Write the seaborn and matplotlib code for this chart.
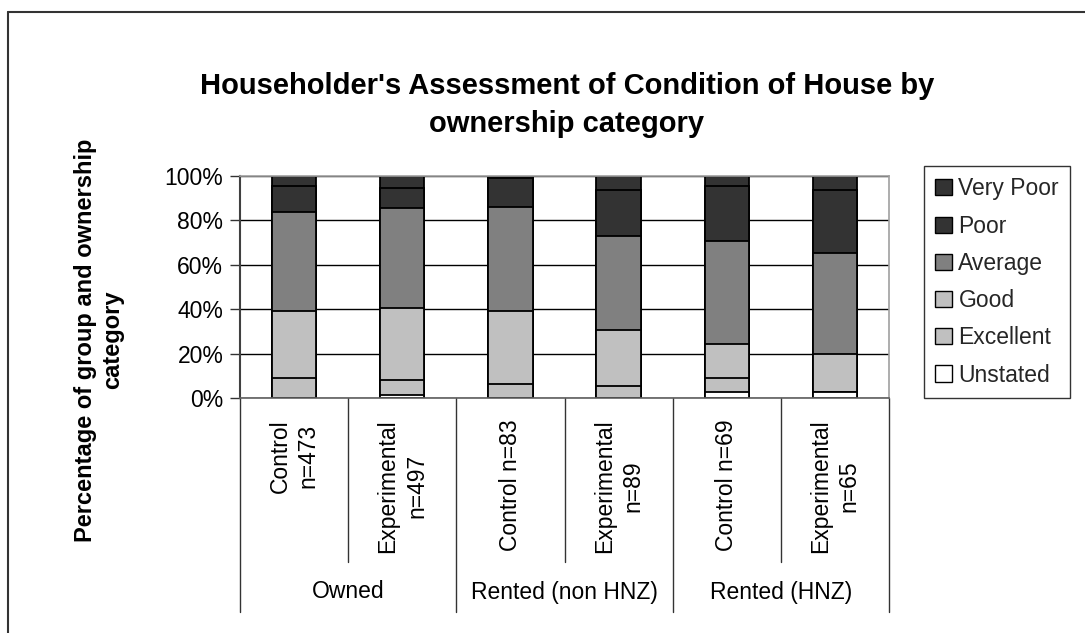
import matplotlib
matplotlib.use("Agg")
import matplotlib.pyplot as plt
import matplotlib.transforms as mtransforms
from matplotlib.patches import Patch
from matplotlib.lines import Line2D
import seaborn as sns
import pandas as pd
import numpy as np

# ---------------- data ----------------
bar_labels = ["Control\nn=473", "Experimental\nn=497", "Control n=83",
              "Experimental\nn=89", "Control n=69", "Experimental\nn=65"]
group_labels = ["Owned", "Rented (non HNZ)", "Rented (HNZ)"]
series_names = ["Unstated", "Excellent", "Good", "Average", "Poor", "Very Poor"]
unstated  = [0.0, 1.2, 0.0, 0.0, 2.5, 2.7]
excellent = [9.0, 7.0, 6.3, 5.5, 6.5, 0.0]
good      = [30.0, 32.3, 32.7, 25.2, 15.4, 17.1]
average   = [44.7, 45.0, 47.2, 42.3, 46.5, 45.7]
poor      = [11.8, 9.0, 12.8, 20.7, 24.6, 28.2]
very_poor = [4.5, 5.5, 1.0, 6.3, 4.5, 6.3]
y_ticks = [0, 20, 40, 60, 80, 100]
y_tick_labels = ["0%", "20%", "40%", "60%", "80%", "100%"]

colors = {"Unstated": "#ffffff", "Excellent": "#c0c0c0", "Good": "#c0c0c0",
          "Average": "#808080", "Poor": "#333333", "Very Poor": "#333333"}

series = [unstated, excellent, good, average, poor, very_poor]
df = pd.DataFrame({n: v for n, v in zip(series_names, series)})
df["bar"] = [f"b{i}" for i in range(len(bar_labels))]

sns.set_theme(style="white")
plt.rcParams["font.family"] = ["Liberation Sans", "DejaVu Sans"]

W, H = 1085, 633
fig = plt.figure(figsize=(W / 100, H / 100), dpi=100)
fig.patch.set_facecolor("white")

# axes in pixel coordinates
ax_l, ax_r, ax_t, ax_b = 240, 889, 176, 398
ax = fig.add_axes([ax_l / W, 1 - ax_b / H, (ax_r - ax_l) / W, (ax_b - ax_t) / H])

# stacked bars: draw cumulative totals from top series down
cum = np.cumsum(np.array(series), axis=0)
order = list(range(len(series_names)))[::-1]
for i in order:
    d = pd.DataFrame({"bar": df["bar"], "val": cum[i]})
    sns.barplot(data=d, x="bar", y="val", color=colors[series_names[i]],
                width=0.41, edgecolor="black", linewidth=1.3, saturation=1,
                ax=ax, zorder=3)

FS = 16.5
ax.set_xlim(-0.5, len(bar_labels) - 0.5)
ax.set_ylim(0, 100)
ax.set_yticks(y_ticks)
ax.set_yticklabels(y_tick_labels, fontsize=FS, color="black")
ax.set_xticks([])
ax.set_xlabel("")
ax.set_ylabel("")
ax.tick_params(axis="y", which="both", left=True, length=7, width=1,
               color="#333333", pad=5)
ax.yaxis.grid(True, color="black", linewidth=1)
ax.set_axisbelow(True)
for s in ["top", "right"]:
    ax.spines[s].set_color("#a0a0a0")
    ax.spines[s].set_linewidth(1.2)
ax.spines["left"].set_color("#404040")
ax.spines["left"].set_linewidth(1.5)
ax.spines["bottom"].set_color("#606060")
ax.spines["bottom"].set_linewidth(1.2)
for s in ax.spines.values():
    s.set_zorder(4)

# multi-level category axis
ph = ax_b - ax_t
trans = mtransforms.blended_transform_factory(ax.transData, ax.transAxes)
short_y = -(562 - ax_b) / ph
long_y = -(612 - ax_b) / ph
for k in range(len(bar_labels) + 1):
    x = k - 0.5
    yend = long_y if k % 2 == 0 else short_y
    ax.add_line(Line2D([x, x], [0, yend], transform=trans, color="#333333",
                       linewidth=1, clip_on=False))
label_top = -(419 - ax_b) / ph
for k, lab in enumerate(bar_labels):
    ax.text(k, label_top, lab, transform=trans, rotation=90, ha="center",
            va="top", multialignment="center", fontsize=FS, color="black",
            linespacing=1.3)
group_y = -(592 - ax_b) / ph
for g, lab in enumerate(group_labels):
    ax.text(2 * g + 0.5, group_y, lab, transform=trans, ha="center",
            va="center", fontsize=FS, color="black")

# legend
handles = [Patch(facecolor=colors[n], edgecolor="black", linewidth=1)
           for n in series_names[::-1]]
leg = fig.legend(handles, series_names[::-1], loc="upper left",
                 bbox_to_anchor=(924 / W, 1 - 166 / H), fontsize=FS,
                 frameon=True, fancybox=False, handlelength=0.7,
                 handleheight=0.7, handletextpad=0.3, labelspacing=0.62,
                 borderpad=0.5, borderaxespad=0)
leg.get_frame().set_edgecolor("black")
leg.get_frame().set_linewidth(1)

# title and y label
fig.text(567 / W, 1 - 105 / H,
         "Householder's Assessment of Condition of House by\nownership category",
         ha="center", va="center", fontsize=21, fontweight="bold",
         linespacing=1.5, color="black")
fig.text(99 / W, 1 - 340 / H,
         "Percentage of group and ownership\ncategory", rotation=90,
         ha="center", va="center", multialignment="center", fontsize=17,
         fontweight="bold", linespacing=1.2, color="black")

# figure border
fig.add_artist(Line2D([8 / W, 8 / W], [0, 1 - 12 / H], transform=fig.transFigure,
                      color="#333333", linewidth=1.5))
fig.add_artist(Line2D([8 / W, 1], [1 - 12 / H, 1 - 12 / H], transform=fig.transFigure,
                      color="#333333", linewidth=1.5))

fig.savefig("out.png", dpi=100, facecolor="white")
